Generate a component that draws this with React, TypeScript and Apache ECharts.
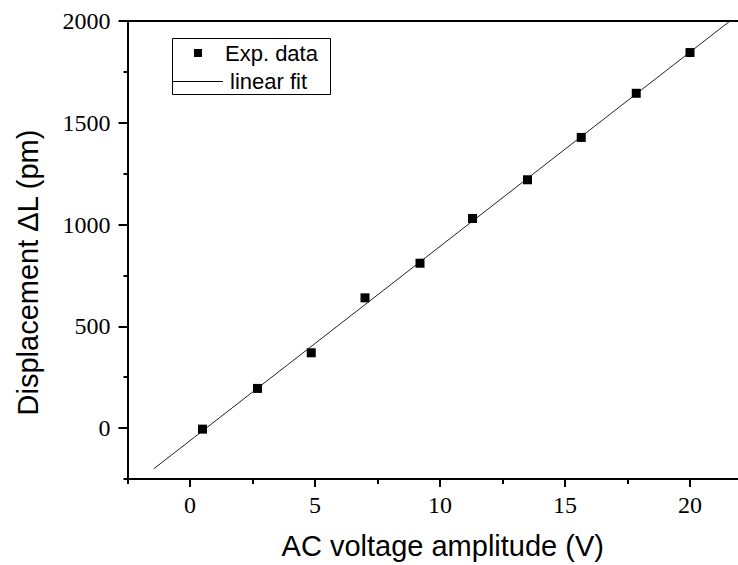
import React, { useEffect, useRef } from "react";
import * as echarts from "echarts";

const voltage = [0.5, 2.7, 4.85, 7.0, 9.2, 11.3, 13.5, 15.65, 17.85, 20.0];
const displacement = [-5, 195, 370, 640, 810, 1030, 1220, 1428, 1645, 1845];
const fitVoltage = [-1.45, 21.6];
const fitDisplacement = [-200, 2000];
const xMajorTicks = [0, 5, 10, 15, 20];
const xMinorTicks = [-2.5, 2.5, 7.5, 12.5, 17.5];
const yMajorTicks = [0, 500, 1000, 1500, 2000];
const yMinorTicks = [-250, 250, 750, 1250, 1750];
const legendLabels = ["Exp. data", "linear fit"];
const xTitle = "AC voltage amplitude (V)";
const yTitle = "Displacement \u0394L (pm)";

export default function App() {
  const ref = useRef<HTMLDivElement>(null);
  useEffect(() => {
    if (!ref.current) return;
    const chart = echarts.init(ref.current, undefined, { renderer: "svg" });
    const serif = "'Liberation Serif', 'Times New Roman', serif";
    const sans = "'Liberation Sans', Arial, sans-serif";
    const axisLineStyle = { color: "#000", width: 2 };
    const xMin = -2.5;
    const xMax = 21.92;
    const plain = (v: number) => String(v);
    const option: any = {
      animation: false,
      backgroundColor: "#fff",
      grid: { left: 127.5, top: 21, width: 610.5, height: 461.25, containLabel: false },
      xAxis: [
        {
          type: "value",
          min: xMin,
          max: xMax,
          position: "bottom",
          axisLine: { show: true, onZero: false, lineStyle: axisLineStyle },
          axisTick: { show: true, customValues: xMajorTicks, length: 8, lineStyle: { width: 2, color: "#000" } },
          axisLabel: { customValues: xMajorTicks, formatter: plain, fontFamily: serif, fontSize: 24, color: "#000", margin: 14 },
          splitLine: { show: false },
          name: xTitle,
          nameLocation: "middle",
          nameGap: 52,
          nameTextStyle: { fontFamily: sans, fontSize: 29, color: "#000", padding: [0, 0, 0, 20] },
        },
        {
          type: "value",
          min: xMin,
          max: xMax,
          position: "bottom",
          axisLine: { show: false, onZero: false },
          axisTick: { show: true, customValues: xMinorTicks, length: 5, lineStyle: { width: 2, color: "#000" } },
          axisLabel: { show: false },
          splitLine: { show: false },
        },
        {
          type: "value",
          min: xMin,
          max: xMax,
          position: "top",
          axisLine: { show: true, onZero: false, lineStyle: axisLineStyle },
          axisTick: { show: false },
          axisLabel: { show: false },
          splitLine: { show: false },
        },
      ],
      yAxis: [
        {
          type: "value",
          min: -250,
          max: 2000,
          position: "left",
          axisLine: { show: true, onZero: false, lineStyle: axisLineStyle },
          axisTick: { show: true, customValues: yMajorTicks, length: 9, lineStyle: { width: 2, color: "#000" } },
          axisLabel: { customValues: yMajorTicks, formatter: plain, fontFamily: serif, fontSize: 24, color: "#000", margin: 17 },
          splitLine: { show: false },
        },
        {
          type: "value",
          min: -250,
          max: 2000,
          position: "left",
          axisLine: { show: false, onZero: false },
          axisTick: { show: true, customValues: yMinorTicks, length: 4, lineStyle: { width: 2, color: "#000" } },
          axisLabel: { show: false },
          splitLine: { show: false },
        },
      ],
      series: [
        {
          name: legendLabels[1],
          type: "line",
          xAxisIndex: 0,
          yAxisIndex: 0,
          data: fitVoltage.map((v, i) => [v, fitDisplacement[i]]),
          showSymbol: false,
          symbol: "none",
          lineStyle: { color: "#222", width: 1 },
          clip: true,
          z: 2,
        },
        {
          name: legendLabels[0],
          type: "scatter",
          xAxisIndex: 0,
          yAxisIndex: 0,
          data: voltage.map((v, i) => [v, displacement[i]]),
          symbol: "rect",
          symbolSize: 9,
          itemStyle: { color: "#000", opacity: 1 },
          z: 3,
        },
      ],
      graphic: [
        {
          type: "rect",
          shape: { x: 172.5, y: 38.5, width: 158, height: 56 },
          style: { fill: "#fff", stroke: "#000", lineWidth: 1 },
          z: 10,
        },
        {
          type: "rect",
          shape: { x: 194, y: 49, width: 8, height: 8 },
          style: { fill: "#000" },
          z: 11,
        },
        {
          type: "text",
          x: 225,
          y: 53,
          style: { text: legendLabels[0], font: "22px 'Liberation Sans', Arial, sans-serif", fill: "#000", textVerticalAlign: "middle", textAlign: "left" },
          z: 11,
        },
        {
          type: "line",
          shape: { x1: 172, y1: 81.5, x2: 223, y2: 81.5 },
          style: { stroke: "#000", lineWidth: 1 },
          z: 11,
        },
        {
          type: "text",
          x: 230,
          y: 81,
          style: { text: legendLabels[1], font: "22px 'Liberation Sans', Arial, sans-serif", fill: "#000", textVerticalAlign: "middle", textAlign: "left" },
          z: 11,
        },
        {
          type: "text",
          x: 28,
          y: 272.5,
          rotation: Math.PI / 2,
          style: { text: yTitle, font: "29px 'Liberation Sans', Arial, sans-serif", fill: "#000", textVerticalAlign: "middle", textAlign: "center" },
          z: 11,
        },
      ],
    };
    chart.setOption(option);
    return () => chart.dispose();
  }, []);
  return (
    <div
      ref={ref}
      style={{ position: "absolute", left: 0, top: 0, width: 738, height: 565, background: "#fff" }}
    />
  );
}
